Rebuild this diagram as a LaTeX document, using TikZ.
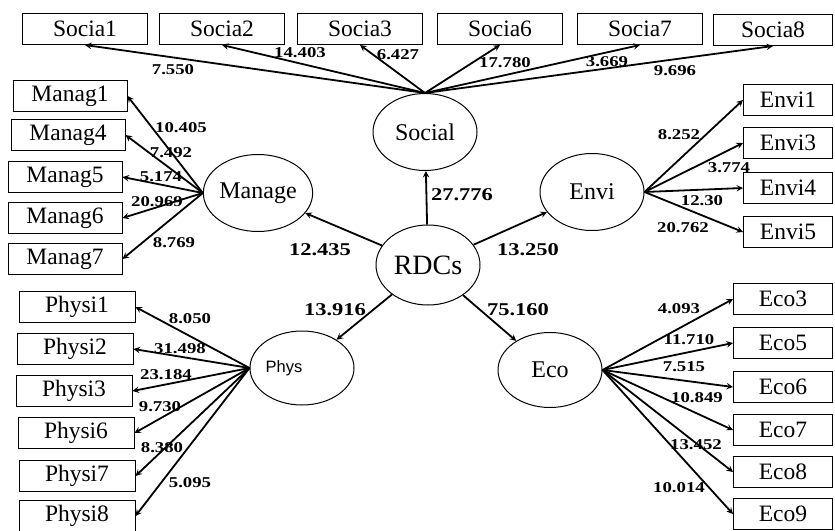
\documentclass[tikz,border=0pt]{standalone}
\usepackage{fontspec}
\setmainfont{Liberation Serif}
\newfontfamily\numfont[FakeStretch=1.25]{Liberation Serif}
\newfontfamily\physfont{Liberation Sans}
\usetikzlibrary{shapes.geometric}
\tikzset{>=stealth}

\begin{document}
\begin{tikzpicture}[x=1pt, y=-1pt,
  box/.style={draw, line width=1pt, minimum height=31pt, inner sep=0pt, font=\fontsize{23.5}{25}\selectfont},
  lv/.style={draw, ellipse, line width=1pt, minimum width=104pt, minimum height=77pt, inner sep=0pt, font=\fontsize{24}{26}\selectfont},
  num/.style={inner sep=0pt, font=\numfont\bfseries\fontsize{15}{15}\selectfont},
  bignum/.style={inner sep=0pt, font=\numfont\bfseries\fontsize{18}{18}\selectfont},
  arr/.style={->, line width=1.8pt}]
\useasboundingbox (0,0) rectangle (835,530);
\node[lv] (soc) at (425,132) {Social};
\node[lv] (man) at (258,193) {Manage};
\node[lv, minimum height=80pt, font=\fontsize{28}{30}\selectfont] (rdc) at (428,265) {RDCs};
\node[lv] (env) at (592,192) {Envi};
\node[lv, minimum height=74pt, font=\physfont\fontsize{16.5}{18}\selectfont] (phy) at (302,368) {Phys\kern36pt};
\node[lv, minimum height=75pt] (eco) at (550,370) {Eco};
\foreach \n/\x/\t in {s1/85/Socia1, s2/222/Socia2, s3/360/Socia3, s6/500/Socia6, s7/640/Socia7}
\node[box, minimum width=125pt] (\n) at (\x,29) {\t};
\node[box, minimum width=119pt] (s8) at (773,30) {Socia8};
\foreach \n/\x/\y/\t in {m1/70/96/Manag1, m4/68/135/Manag4, m5/65/177/Manag5, m6/65/218/Manag6, m7/65/259/Manag7}
\node[box, minimum width=114pt] (\n) at (\x,\y) {\t};
\foreach \n/\y/\t in {e1/100/Envi1, e3/143/Envi3, e4/188/Envi4, e5/232/Envi5}
\node[box, minimum width=89pt] (\n) at (788,\y) {\t};
\foreach \n/\x/\y/\t in {p1/77/307/Physi1, p2/75/349/Physi2, p3/74/391/Physi3, p6/76/433/Physi6, p7/77/476/Physi7, p8/77/516/Physi8}
\node[box, minimum width=116pt] (\n) at (\x,\y) {\t};
\foreach \n/\y/\t in {c3/299/Eco3, c5/343/Eco5, c6/387/Eco6, c7/430/Eco7, c8/472/Eco8, c9/514/Eco9}
\node[box, minimum width=99pt] (\n) at (783,\y) {\t};
\draw[arr] (rdc) -- (soc);
\draw[arr] (rdc) -- (man);
\draw[arr] (rdc) -- (env);
\draw[arr] (rdc) -- (phy);
\draw[arr] (rdc) -- (eco);
\foreach \n in {s1,s2,s3,s6,s7,s8}
\draw[arr] (soc.north) -- (\n.south);
\foreach \n in {m1,m4,m5,m6,m7}
\draw[arr] (man.west) -- (\n.east);
\foreach \n in {e1,e3,e4,e5}
\draw[arr] (env.east) -- (\n.west);
\foreach \n in {p1,p2,p3,p6,p7,p8}
\draw[arr] (phy.west) -- (\n.east);
\foreach \n in {c3,c5,c6,c7,c8,c9}
\draw[arr] (eco.east) -- (\n.west);
\foreach \x/\y/\t [count=\i] in {462/195/27.776, 528/250/13.250, 320/250/12.435, 335/310/13.916, 518/310/75.160}
\node[bignum] (b\i) at (\x,\y) {\t};
\foreach \x/\y/\t [count=\i] in {173/70/7.550, 300/53/14.403, 398/55/6.427, 505/63/17.780, 607/62/3.669, 675/71/9.696,
  181/128/10.405, 171/153/7.492, 161/177/5.174, 157/202/20.969, 174/243/8.769,
  679/135/8.252, 729/168/3.774, 702/201/12.30, 683/228/20.762,
  190/319/8.050, 180/349/31.498, 166/375/23.184, 160/407/9.730, 162/448/8.380, 190/483/5.095,
  679/309/4.093, 689/340/11.710, 684/367/7.515, 697/398/10.849, 696/445/13.452, 679/488/10.014}
\node[num] (n\i) at (\x,\y) {\t};
\end{tikzpicture}
\end{document}
